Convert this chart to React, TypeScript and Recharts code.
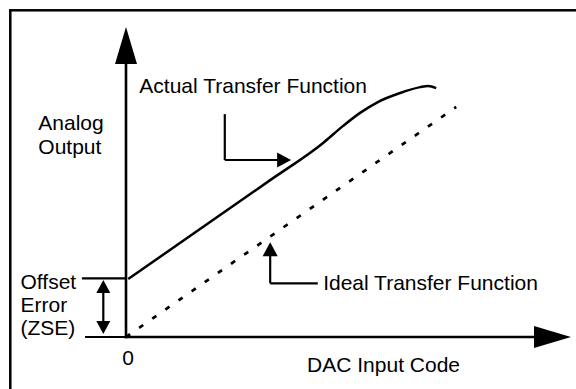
import { LineChart, Line, XAxis, YAxis, ReferenceLine, ReferenceDot } from "recharts";

const FONT = "'Liberation Sans', Arial, Helvetica, sans-serif";

// DAC code (x) vs analog output (y), arbitrary units 0..100
const idealCode = [0, 74.2];
const idealOutput = [0, 74.2];
const actualCode = [0.5, 32.4, 44.3, 48.8, 52.6, 56.6, 61.6, 66.1, 67.9, 69.7];
const actualOutput = [18.7, 50.6, 62.6, 68.1, 72.3, 75.8, 78.7, 80.6, 81.0, 80.3];
const codeTicks = [0];
const offsetError = 18.9;

const idealData = idealCode.map((x, i) => ({ x, y: idealOutput[i] }));
const actualData = actualCode.map((x, i) => ({ x, y: actualOutput[i] }));

type Note = { text: string; x: number; y: number };
const notes: Note[] = [
  { text: "Actual Transfer Function", x: 3.0, y: 78.7 },
  { text: "Analog", x: -19.7, y: 66.9 },
  { text: "Output", x: -19.7, y: 59.0 },
  { text: "Offset", x: -23.7, y: 15.4 },
  { text: "Error", x: -23.7, y: 8.2 },
  { text: "(ZSE)", x: -23.7, y: 0.8 },
  { text: "Ideal Transfer Function", x: 44.3, y: 15.2 },
  { text: "DAC Input Code", x: 40.7, y: -11.3 },
];

type Kind = "axis" | "pointer" | "dim" | "plain";
type Seg = { from: [number, number]; to: [number, number]; kind: Kind; both?: boolean };
const segments: Seg[] = [
  { from: [0, 0], to: [100, 0], kind: "axis" },
  { from: [0, 0], to: [0, 100], kind: "axis" },
  // offset error dimension
  { from: [-9.9, offsetError], to: [0, offsetError], kind: "plain" },
  { from: [-9.2, 0], to: [0, 0], kind: "plain" },
  { from: [-5.1, 1.0], to: [-5.1, 18.4], kind: "dim", both: true },
  // callouts
  { from: [22.2, 71.9], to: [22.2, 57.1], kind: "plain" },
  { from: [22.2, 57.1], to: [37.1, 57.1], kind: "pointer" },
  { from: [43.1, 17.3], to: [32.4, 17.3], kind: "plain" },
  { from: [32.4, 17.3], to: [32.4, 30.6], kind: "pointer" },
];

const HEADS: Record<Kind, [number, number, number]> = {
  axis: [37, 11, 2.6],
  pointer: [14, 7.5, 2.2],
  dim: [13, 7, 2.2],
  plain: [0, 0, 2.2],
};

const arrowShape = (kind: Kind, both?: boolean) => (p: any) => {
  const { x1, y1, x2, y2 } = p;
  const [len, half, w] = HEADS[kind];
  const d = Math.hypot(x2 - x1, y2 - y1) || 1;
  const ux = (x2 - x1) / d;
  const uy = (y2 - y1) / d;
  const head = (tx: number, ty: number, dx: number, dy: number) => {
    const bx = tx - dx * len;
    const by = ty - dy * len;
    return `${tx},${ty} ${bx - dy * half},${by + dx * half} ${bx + dy * half},${by - dx * half}`;
  };
  const trim = len > 0 ? len - 1 : 0;
  const sx = both ? x1 + ux * trim : x1;
  const sy = both ? y1 + uy * trim : y1;
  return (
    <g>
      <line
        x1={sx}
        y1={sy}
        x2={x2 - ux * trim}
        y2={y2 - uy * trim}
        stroke="#000"
        strokeWidth={w}
        strokeLinecap={kind === "axis" ? "square" : "butt"}
      />
      {len > 0 && <polygon points={head(x2, y2, ux, uy)} fill="#000" />}
      {len > 0 && both && <polygon points={head(x1, y1, -ux, -uy)} fill="#000" />}
    </g>
  );
};

const noteShape = (text: string) => (p: any) => (
  <text x={p.cx} y={p.cy} fontFamily={FONT} fontSize={21} fill="#000">
    {text}
  </text>
);

export default function App() {
  return (
    <div style={{ position: "fixed", left: 0, top: 0, width: 576, height: 389, background: "#fff" }}>
      <svg
        width={576}
        height={389}
        style={{ position: "absolute", left: 0, top: 0, pointerEvents: "none" }}
      >
        <rect x={10.3} y={10.3} width={700} height={500} fill="none" stroke="#000" strokeWidth={2.5} />
      </svg>
      <div style={{ position: "absolute", left: 0, top: 0 }}>
        <LineChart width={576} height={389} margin={{ top: 27, right: 5, bottom: 0, left: 126 }}>
          <XAxis
            type="number"
            dataKey="x"
            domain={[0, 100]}
            allowDataOverflow
            ticks={codeTicks}
            axisLine={false}
            tickLine={false}
            tickSize={0}
            tickMargin={13}
            height={52}
            tick={{ fill: "#000", fontSize: 21, fontFamily: FONT, dx: 2 }}
          />
          <YAxis type="number" domain={[0, 100]} allowDataOverflow hide />
          <Line
            data={idealData}
            dataKey="y"
            type="linear"
            stroke="#000"
            strokeWidth={2.7}
            strokeDasharray="5 11"
            dot={false}
            isAnimationActive={false}
          />
          <Line
            data={actualData}
            dataKey="y"
            type="monotone"
            stroke="#000"
            strokeWidth={2.5}
            dot={false}
            isAnimationActive={false}
          />
          {segments.map((s, i) => (
            <ReferenceLine
              key={`s${i}`}
              segment={[
                { x: s.from[0], y: s.from[1] },
                { x: s.to[0], y: s.to[1] },
              ]}
              ifOverflow="visible"
              shape={arrowShape(s.kind, s.both)}
            />
          ))}
          {notes.map((n, i) => (
            <ReferenceDot
              key={`n${i}`}
              x={n.x}
              y={n.y}
              r={0}
              ifOverflow="visible"
              shape={noteShape(n.text)}
            />
          ))}
        </LineChart>
      </div>
    </div>
  );
}
